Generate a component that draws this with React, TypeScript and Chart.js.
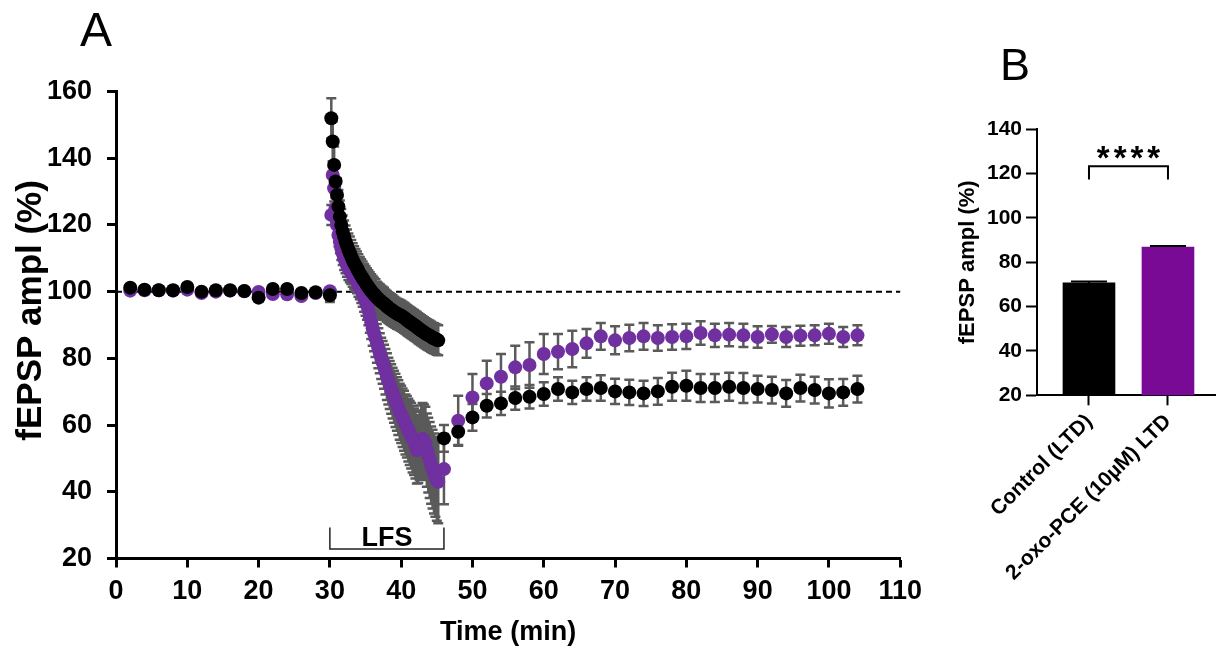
import React, { useEffect, useRef } from "react";
import { Chart, registerables } from "chart.js";

Chart.register(...registerables);

// ---------- Panel A data ----------
const BASE_TIME = [2, 4, 6, 8, 10, 12, 14, 16, 18, 20, 22, 24, 26, 28, 30];
const CTRL_BASE = [101.2, 100.6, 100.4, 100.4, 101.4, 100, 100.4, 100.4, 100.2, 98.2, 100.8, 100.8, 99.6, 99.8, 98.9];
const CTRL_BASE_ERR = [1, 0.8, 0.8, 0.8, 1, 0.8, 0.8, 0.8, 0.8, 1, 1, 1, 0.8, 1, 2];
const PCE_BASE = [100.3, 100.4, 100.4, 100.3, 100.6, 99.6, 100, 100.3, 100.1, 99.9, 99.3, 99.2, 98.7, 99.6, 100.1];
const PCE_BASE_ERR = [0.6, 0.6, 0.6, 0.6, 0.6, 0.6, 0.6, 0.6, 0.6, 0.6, 0.6, 0.6, 0.6, 0.6, 0.8];

const LFS_TIME = [
  30.2, 30.4, 30.6, 30.8, 31.0, 31.2, 31.4, 31.6, 31.8, 32.0,
  32.2, 32.4, 32.6, 32.8, 33.0, 33.2, 33.4, 33.6, 33.8, 34.0,
  34.2, 34.4, 34.6, 34.8, 35.0, 35.2, 35.4, 35.6, 35.8, 36.0,
  36.2, 36.4, 36.6, 36.8, 37.0, 37.2, 37.4, 37.6, 37.8, 38.0,
  38.2, 38.4, 38.6, 38.8, 39.0, 39.2, 39.4, 39.6, 39.8, 40.0,
  40.2, 40.4, 40.6, 40.8, 41.0, 41.2, 41.4, 41.6, 41.8, 42.0,
  42.2, 42.4, 42.6, 42.8, 43.0, 43.2, 43.4, 43.6, 43.8, 44.0,
  44.2, 44.4, 44.6, 44.8, 45.0, 45.2,
];
const CTRL_LFS = [
  152, 145, 138, 133, 129, 125.5, 122.5, 120, 118, 116.5,
  115, 113.8, 112.6, 111.5, 110.5, 109.5, 108.6, 107.8, 107, 106.2,
  105.4, 104.7, 104, 103.3, 102.7, 102, 101.4, 100.8, 100.2, 99.7,
  99.2, 98.7, 98.2, 97.8, 97.4, 97, 96.7, 96.4, 96, 95.6,
  95.2, 94.9, 94.6, 94.3, 94, 93.7, 93.4, 93.2, 93, 92.8,
  92.5, 92.2, 91.9, 91.5, 91.2, 90.9, 90.6, 90.3, 90, 89.7,
  89.4, 89, 88.7, 88.4, 88.1, 87.8, 87.5, 87.2, 87, 86.8,
  86.5, 86.2, 86, 85.8, 85.6, 85.4,
];
const CTRL_LFS_ERR = [
  6, 6, 5.5, 5, 5, 5, 4.8, 4.8, 4.8, 4.8,
  4.8, 4.8, 4.8, 5, 5, 5, 5, 5, 5, 5,
  5, 5, 5, 5, 5, 5, 5, 5, 5, 5,
  5, 5, 4.8, 4.8, 4.8, 4.8, 4.8, 4.8, 4.6, 4.6,
  4.6, 4.6, 4.6, 4.6, 4.5, 4.5, 4.5, 4.5, 4.5, 4.5,
  4.5, 4.5, 4.5, 4.5, 4.5, 4.5, 4.5, 4.5, 4.5, 4.5,
  4.5, 4.5, 4.5, 4.5, 4.5, 4.5, 4.5, 4.5, 4.5, 4.5,
  4.5, 4.5, 4.5, 4.5, 4.5, 4.5,
];
const PCE_LFS = [
  123, 135, 131, 125, 120, 117, 115, 113, 111.5, 110,
  109, 108, 107, 106.3, 105.8, 105, 104.3, 103.6, 103, 102,
  101.2, 100.4, 99.5, 98, 97, 96, 94.5, 92.5, 90.8, 89,
  87.5, 86, 84.5, 83, 81.5, 80, 78.8, 77.5, 76, 74.5,
  73.2, 72, 70.8, 69.6, 68.5, 67.4, 66.3, 65.2, 64, 63.2,
  62.2, 61.3, 60.2, 59.5, 58.5, 57.6, 56.8, 55.8, 55, 54,
  52.5, 52.8, 54, 55.3, 55.8, 55.2, 54.5, 52.5, 51, 49.5,
  48, 46.8, 45.5, 44.5, 43.5, 43,
];
const PCE_LFS_ERR = [
  3, 4, 4, 4, 3.5, 3.5, 3.5, 3.5, 3.5, 3.5,
  3.5, 3.5, 3.5, 3.5, 3.5, 3.5, 3.5, 3.5, 3.5, 3.5,
  3.5, 3.8, 4, 4, 4.2, 4.4, 4.6, 4.8, 5, 5.2,
  5.4, 5.6, 5.8, 6, 6, 6.2, 6.4, 6.6, 6.8, 7,
  7, 7.2, 7.4, 7.6, 7.8, 8, 8, 8.2, 8.4, 8.6,
  8.8, 9, 9, 9.2, 9.4, 9.6, 9.8, 10, 10, 10,
  10, 10.2, 10.4, 10.6, 10.8, 11, 11, 11, 11.2, 11.4,
  11.6, 11.8, 12, 12, 12.2, 12.4,
];

const POST_TIME = [46, 48, 50, 52, 54, 56, 58, 60, 62, 64, 66, 68, 70, 72, 74, 76, 78, 80, 82, 84, 86, 88, 90, 92, 94, 96, 98, 100, 102, 104];
const CTRL_POST = [56, 58, 62.3, 65.8, 66.5, 68.1, 68.5, 69.3, 70.8, 69.8, 70.8, 71.1, 70.1, 69.8, 69.5, 70.1, 71.5, 71.8, 71.1, 71.1, 71.5, 71.1, 70.8, 70.5, 69.5, 71.1, 70.5, 69.5, 69.8, 70.8];
const CTRL_POST_ERR = [4, 4, 4, 3.5, 3.5, 3.5, 3.5, 3.5, 3.5, 3.5, 3.5, 3.8, 3.8, 3.8, 3.8, 4, 4.2, 4.5, 4.2, 4.2, 4.2, 4.5, 4, 4, 4, 4, 4, 4.2, 4, 4];
const PCE_POST = [46.8, 61.3, 68.3, 72.5, 74.5, 77.3, 78, 81.3, 82, 82.8, 84.5, 86.6, 85.4, 86.1, 86.6, 86.1, 86.4, 86.6, 87.6, 86.9, 87.1, 86.9, 86.4, 87.2, 86.4, 86.8, 86.9, 87.4, 86.4, 86.9];
const PCE_POST_ERR = [10.5, 7.5, 7, 6.8, 6.8, 6.5, 6.8, 6, 5.3, 5.5, 4.3, 4, 4.2, 4, 4, 3.8, 3.8, 3.8, 3.5, 3.5, 3.5, 3.5, 3.2, 2.5, 3, 3, 3, 3, 3, 3];

const A_X_TICKS = [0, 10, 20, 30, 40, 50, 60, 70, 80, 90, 100, 110];
const A_Y_TICKS = [20, 40, 60, 80, 100, 120, 140, 160];
const BASELINE = 100;
const LFS_START = 30;
const LFS_END = 46;

// ---------- Panel B data ----------
const B_LABELS = ["Control (LTD)", "2-oxo-PCE (10µM) LTD"];
const B_VALUES = [70.7, 86.9];
const B_ERR = [0.6, 0.4];
const B_Y_TICKS = [20, 40, 60, 80, 100, 120, 140];
const B_SIG = "****";

// ---------- styles ----------
const BLACK = "#000000";
const PURPLE = "#7030a0";
const BAR_PURPLE = "#780a96";
const ERR_GRAY = "#5a5a5a";
const FONT = "'Liberation Sans', Arial, Helvetica, sans-serif";

function pts(t: number[], v: number[]) {
  return t.map((x, i) => ({ x, y: v[i] }));
}

const panelAPlugin = {
  id: "panelA",
  beforeDatasetsDraw(chart: any) {
    const { ctx } = chart;
    const x = chart.scales.x;
    const y = chart.scales.y;
    ctx.save();
    // dashed 100% baseline
    ctx.strokeStyle = "#000";
    ctx.lineWidth = 2;
    ctx.setLineDash([6, 4]);
    ctx.beginPath();
    ctx.moveTo(x.getPixelForValue(0), y.getPixelForValue(BASELINE));
    ctx.lineTo(x.getPixelForValue(110), y.getPixelForValue(BASELINE));
    ctx.stroke();
    ctx.setLineDash([]);
    // error bars
    ctx.strokeStyle = ERR_GRAY;
    ctx.lineWidth = 2.5;
    chart.data.datasets.forEach((ds: any) => {
      const errs = ds.errors;
      if (!errs) return;
      ds.data.forEach((p: any, j: number) => {
        const px = x.getPixelForValue(p.x);
        const y1 = y.getPixelForValue(p.y + errs[j]);
        const y2 = y.getPixelForValue(p.y - errs[j]);
        ctx.beginPath();
        ctx.moveTo(px, y1);
        ctx.lineTo(px, y2);
        ctx.moveTo(px - 5, y1);
        ctx.lineTo(px + 5, y1);
        ctx.moveTo(px - 5, y2);
        ctx.lineTo(px + 5, y2);
        ctx.stroke();
      });
    });
    ctx.restore();
  },
  afterDatasetsDraw(chart: any) {
    const { ctx } = chart;
    const x = chart.scales.x;
    const y = chart.scales.y;
    const xs = x.getPixelForValue(LFS_START);
    const xe = x.getPixelForValue(LFS_END);
    const yb = y.bottom - 9.5;
    const yt = y.bottom - 31;
    ctx.save();
    ctx.strokeStyle = "#222";
    ctx.lineWidth = 1.5;
    ctx.beginPath();
    ctx.moveTo(xs, yt);
    ctx.lineTo(xs, yb);
    ctx.lineTo(xe, yb);
    ctx.lineTo(xe, yt);
    ctx.stroke();
    ctx.fillStyle = "#000";
    ctx.font = `bold 27px ${FONT}`;
    ctx.textAlign = "center";
    ctx.textBaseline = "alphabetic";
    ctx.fillText("LFS", (xs + xe) / 2, y.bottom - 13);
    ctx.restore();
  },
};

const panelBPlugin = {
  id: "panelB",
  afterDatasetsDraw(chart: any) {
    const { ctx } = chart;
    const x = chart.scales.x;
    const y = chart.scales.y;
    ctx.save();
    ctx.strokeStyle = "#000";
    ctx.lineWidth = 2;
    B_VALUES.forEach((v, j) => {
      const px = x.getPixelForValue(j);
      const yt = y.getPixelForValue(v + B_ERR[j]);
      const yv = y.getPixelForValue(v);
      ctx.beginPath();
      ctx.moveTo(px, yv);
      ctx.lineTo(px, yt);
      ctx.moveTo(px - 18, yt);
      ctx.lineTo(px + 18, yt);
      ctx.stroke();
    });
    const x0 = x.getPixelForValue(0);
    const x1 = x.getPixelForValue(1);
    const top = y.getPixelForValue(123.3);
    const bot = y.getPixelForValue(117.4);
    ctx.beginPath();
    ctx.moveTo(x0, bot);
    ctx.lineTo(x0, top);
    ctx.lineTo(x1, top);
    ctx.lineTo(x1, bot);
    ctx.stroke();
    ctx.fillStyle = "#000";
    ctx.font = `bold 33px ${FONT}`;
    (ctx as any).letterSpacing = "4px";
    ctx.textAlign = "center";
    ctx.textBaseline = "alphabetic";
    ctx.fillText(B_SIG, (x0 + x1) / 2 + 2, top + 3);
    ctx.restore();
  },
};

export default function App() {
  const refA = useRef<HTMLCanvasElement | null>(null);
  const refB = useRef<HTMLCanvasElement | null>(null);

  useEffect(() => {
    const ctrl = [...pts(BASE_TIME, CTRL_BASE), ...pts(LFS_TIME, CTRL_LFS), ...pts(POST_TIME, CTRL_POST)];
    const ctrlErr = [...CTRL_BASE_ERR, ...CTRL_LFS_ERR, ...CTRL_POST_ERR];
    const pce = [...pts(BASE_TIME, PCE_BASE), ...pts(LFS_TIME, PCE_LFS), ...pts(POST_TIME, PCE_POST)];
    const pceErr = [...PCE_BASE_ERR, ...PCE_LFS_ERR, ...PCE_POST_ERR];

    const axisGrid = { drawOnChartArea: false, drawTicks: true, tickLength: 9, tickWidth: 3, color: "#000", offset: false };
    const chartA = new Chart(refA.current as HTMLCanvasElement, {
      type: "scatter",
      data: {
        datasets: [
          { label: "Control", data: ctrl, errors: ctrlErr, backgroundColor: BLACK, borderWidth: 0, pointRadius: 7, showLine: false } as any,
          { label: "2-oxo-PCE", data: pce, errors: pceErr, backgroundColor: PURPLE, borderWidth: 0, pointRadius: 7, showLine: false } as any,
        ],
      },
      options: {
        animation: false,
        responsive: false,
        maintainAspectRatio: false,
        events: [],
        layout: { padding: { left: 0, right: 25, top: 91.5, bottom: 0 } },
        plugins: { legend: { display: false }, tooltip: { enabled: false } },
        scales: {
          x: {
            type: "linear",
            min: 0,
            max: 110,
            afterFit: (s: any) => { s.height = 92.5; },
            afterBuildTicks: (s: any) => { s.ticks = A_X_TICKS.map((v) => ({ value: v })); },
            ticks: { color: "#000", font: { family: FONT, size: 27, weight: "bold" }, padding: 8, maxRotation: 0, autoSkip: false },
            grid: axisGrid,
            border: { display: true, color: "#000", width: 3 },
            title: { display: true, text: "Time (min)", color: "#000", font: { family: FONT, size: 27, weight: "bold" }, padding: { top: 0, bottom: 2 } },
          },
          y: {
            type: "linear",
            min: 20,
            max: 160,
            afterFit: (s: any) => { s.width = 116; },
            afterBuildTicks: (s: any) => { s.ticks = A_Y_TICKS.map((v) => ({ value: v })); },
            ticks: { color: "#000", font: { family: FONT, size: 27, weight: "bold" }, padding: 15, autoSkip: false },
            grid: axisGrid,
            border: { display: true, color: "#000", width: 3 },
            title: { display: true, text: "   fEPSP ampl (%)", color: "#000", font: { family: FONT, size: 35, weight: "bold" }, padding: { top: 10, bottom: 0 } },
          },
        },
      } as any,
      plugins: [panelAPlugin],
    });

    const gridB = { drawOnChartArea: false, drawTicks: true, tickLength: 11, tickWidth: 2, color: "#000", offset: false };
    const chartB = new Chart(refB.current as HTMLCanvasElement, {
      type: "bar",
      data: {
        datasets: [
          {
            label: "LTD",
            data: B_VALUES.map((v, i) => ({ x: i, y: v })),
            backgroundColor: [BLACK, BAR_PURPLE],
            borderWidth: 0,
            barThickness: 52,
          } as any,
        ],
      },
      options: {
        animation: false,
        responsive: false,
        maintainAspectRatio: false,
        events: [],
        layout: { padding: { left: 0, right: 0, top: 129.3, bottom: 0 } },
        plugins: { legend: { display: false }, tooltip: { enabled: false } },
        scales: {
          x: {
            type: "linear",
            min: -0.658,
            max: 1.608,
            offset: false,
            afterFit: (s: any) => { s.height = 255.7; },
            afterBuildTicks: (s: any) => { s.ticks = B_LABELS.map((_, i) => ({ value: i })); },
            ticks: {
              color: "#000",
              font: { family: FONT, size: 21, weight: "bold" },
              padding: 4,
              minRotation: 45,
              maxRotation: 45,
              autoSkip: false,
              callback: (v: any) => B_LABELS[v as number] ?? "",
            },
            grid: { ...gridB, tickLength: 10 },
            border: { display: true, color: "#000", width: 2 },
          },
          y: {
            type: "linear",
            min: 20,
            max: 140,
            afterFit: (s: any) => { s.width = 107; },
            afterBuildTicks: (s: any) => { s.ticks = B_Y_TICKS.map((v) => ({ value: v })); },
            ticks: { color: "#000", font: { family: FONT, size: 21, weight: "bold" }, padding: 4, autoSkip: false },
            grid: gridB,
            border: { display: true, color: "#000", width: 2 },
            title: { display: true, text: "fEPSP ampl (%)", color: "#000", font: { family: FONT, size: 22, weight: "bold" }, padding: { top: 25, bottom: 0 } },
          },
        },
      } as any,
      plugins: [panelBPlugin],
    });

    return () => {
      chartA.destroy();
      chartB.destroy();
    };
  }, []);

  return (
    <div style={{ position: "absolute", left: 0, top: 0, width: 1216, height: 651, background: "#fff", overflow: "hidden" }}>
      <canvas ref={refA} width={930} height={651} style={{ position: "absolute", left: 0, top: 0, width: 930, height: 651 }} />
      <canvas ref={refB} width={286} height={651} style={{ position: "absolute", left: 930, top: 0, width: 286, height: 651 }} />
      <div style={{ position: "absolute", left: 80, top: 6, fontFamily: FONT, fontSize: 48, lineHeight: "48px", color: "#000" }}>A</div>
      <div style={{ position: "absolute", left: 1000, top: 42, fontFamily: FONT, fontSize: 45, lineHeight: "45px", color: "#000" }}>B</div>
    </div>
  );
}
